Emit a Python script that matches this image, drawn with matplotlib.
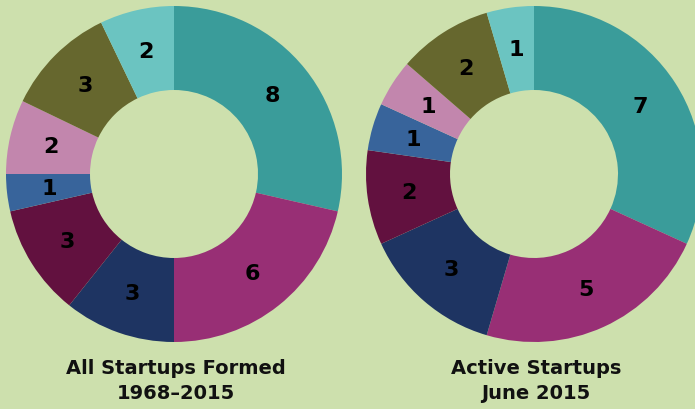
import matplotlib.pyplot as plt

# slice order: clockwise from 12 o'clock
colors = ["#3a9c9a", "#982f75", "#1e3462", "#62113f",
          "#38649b", "#c286ad", "#66672e", "#6bc4c1"]
formed = [8, 6, 3, 3, 1, 2, 3, 2]
active = [7, 5, 3, 2, 1, 1, 2, 1]
titles = ["All Startups Formed\n1968\u20132015", "Active Startups\nJune 2015"]

bg = "#cde0ad"
W, H = 695, 410

fig = plt.figure(figsize=(W / 100, H / 100), dpi=100, facecolor=bg)
ax = fig.add_axes([0, 0, 1, 1])
ax.set_facecolor(bg)

R, ring = 168, 84


def label_fmt(total):
    # turn pie percentage back into the count
    return lambda p: f"{round(p * total / 100)}"


for vals, cx, title in [(formed, 174, titles[0]), (active, 534, titles[1])]:
    ax.pie(vals, colors=colors, startangle=90, counterclock=False,
           center=(cx, H - 175), radius=R, frame=True,
           wedgeprops=dict(width=ring, linewidth=0),
           autopct=label_fmt(sum(vals)), pctdistance=0.75,
           textprops=dict(fontsize=16, fontweight="bold", color="black",
                          family="DejaVu Sans"))
    ax.text(cx + 2, H - 381, title, ha="center", va="center", fontsize=14,
            fontweight="bold", family="DejaVu Sans", color="#111111",
            linespacing=1.4)

ax.set_xlim(0, W)
ax.set_ylim(0, H)
ax.set_aspect("equal")
ax.axis("off")

fig.savefig("out.png", dpi=100, facecolor=bg)
